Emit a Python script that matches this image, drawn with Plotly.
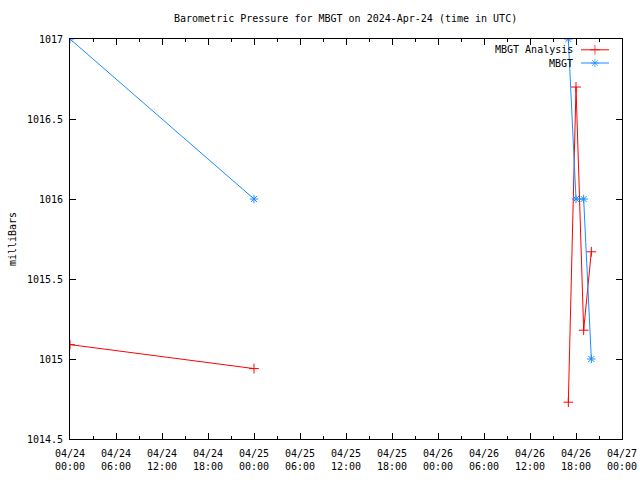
import plotly.graph_objects as go

# ---- data ----
analysis_times = ["2024-04-24 00:00", "2024-04-25 00:00", None,
                  "2024-04-26 17:00", "2024-04-26 18:00", "2024-04-26 19:00", "2024-04-26 20:00"]
analysis_values = [1015.09, 1014.94, None, 1014.73, 1016.70, 1015.18, 1015.67]

obs_times = ["2024-04-24 00:00", "2024-04-25 00:00", None,
             "2024-04-26 17:00", "2024-04-26 18:00", "2024-04-26 19:00", "2024-04-26 20:00"]
obs_values = [1017.0, 1016.0, None, 1017.0, 1016.0, 1016.0, 1015.0]

y_tick_vals = [1014.5, 1015.0, 1015.5, 1016.0, 1016.5, 1017.0]
y_tick_text = ["1014.5", "1015", "1015.5", "1016", "1016.5", "1017"]

series_names = ["MBGT Analysis", "MBGT"]
title_text = "Barometric Pressure for MBGT on 2024-Apr-24 (time in UTC)"
y_label = "milliBars"

RED = "#ff0000"
BLUE = "#1a8cff"
FONT = "DejaVu Sans Mono"

fig = go.Figure()

fig.add_trace(go.Scatter(
    x=analysis_times, y=analysis_values, mode="lines+markers",
    line=dict(color=RED, width=1), connectgaps=False,
    marker=dict(symbol="cross-thin", size=7, color=RED, line=dict(color=RED, width=1)),
    showlegend=False, name=series_names[0]))

fig.add_trace(go.Scatter(
    x=obs_times, y=obs_values, mode="lines+markers",
    line=dict(color=BLUE, width=1), connectgaps=False,
    marker=dict(symbol="asterisk-open", size=7, color=BLUE, line=dict(color=BLUE, width=1)),
    showlegend=False, name=series_names[1]))

# custom gnuplot-style legend keys on an invisible overlay axis
legend_rows = [0.973, 0.94]
legend_colors = [RED, BLUE]
legend_symbols = ["cross-thin", "asterisk-open"]
for i in range(2):
    fig.add_trace(go.Scatter(
        x=[0.9257, 0.951, 0.9764], y=[legend_rows[i]] * 3, xaxis="x2", yaxis="y2",
        mode="lines+markers", line=dict(color=legend_colors[i], width=1),
        marker=dict(symbol=legend_symbols[i], size=[0, 7, 0], color=legend_colors[i],
                    line=dict(color=legend_colors[i], width=1)),
        showlegend=False, hoverinfo="skip"))
    fig.add_annotation(x=0.915, y=legend_rows[i], xref="paper", yref="paper",
                       text=series_names[i], showarrow=False, xanchor="right",
                       yanchor="middle", font=dict(family=FONT, size=10, color="black"))

# y-axis title, gnuplot style
fig.add_annotation(x=-0.105, y=0.5, xref="paper", yref="paper", text=y_label,
                   showarrow=False, textangle=-90, xanchor="center", yanchor="middle",
                   font=dict(family=FONT, size=10, color="black"))

fig.update_layout(
    width=640, height=480,
    margin=dict(l=70, r=18, t=39, b=41),
    paper_bgcolor="white", plot_bgcolor="white",
    font=dict(family=FONT, size=10, color="black"),
    title=dict(text=title_text, x=0.54, xanchor="center", y=0.962, yanchor="middle",
               font=dict(family=FONT, size=10, color="black")),
    xaxis=dict(
        type="date", range=["2024-04-24 00:00", "2024-04-27 00:00"],
        dtick=6 * 3600 * 1000, tick0="2024-04-24 00:00",
        tickformat="%m/%d<br>%H:%M",
        ticks="inside", ticklen=6, tickcolor="black", tickwidth=1,
        minor=dict(dtick=3 * 3600 * 1000, ticks="inside", ticklen=3, tickcolor="black"),
        showline=True, linecolor="black", linewidth=1, mirror="allticks",
        showgrid=False, zeroline=False, automargin=False, ticklabelstandoff=5,
        tickfont=dict(family=FONT, size=10)),
    yaxis=dict(
        range=[1014.5, 1017], tickmode="array", tickvals=y_tick_vals, ticktext=y_tick_text,
        ticks="inside", ticklen=6, tickcolor="black", tickwidth=1,
        showline=True, linecolor="black", linewidth=1, mirror="allticks",
        showgrid=False, zeroline=False, automargin=False, ticklabelstandoff=4,
        tickfont=dict(family=FONT, size=10)),
    xaxis2=dict(overlaying="x", range=[0, 1], visible=False, anchor="y2"),
    yaxis2=dict(overlaying="y", range=[0, 1], visible=False, anchor="x2"),
)

fig.write_html("out.html")
